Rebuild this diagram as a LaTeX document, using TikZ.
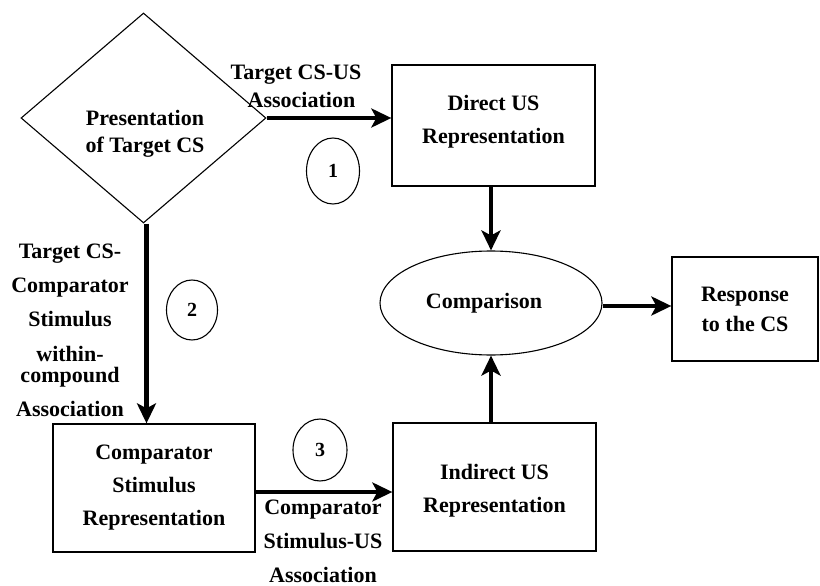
\documentclass[tikz,border=0pt]{standalone}
\usepackage{fontspec}
\setmainfont{Liberation Serif}
\usetikzlibrary{shapes.geometric,arrows.meta,calc}
\begin{document}
\begin{tikzpicture}[x=1pt,y=-1pt,
  txt/.style={font=\bfseries\fontsize{22}{33}\selectfont, align=center, inner sep=0pt},
  box/.style={draw, line width=1.3pt, rectangle, txt},
  circ/.style={draw, line width=1.1pt, ellipse, inner sep=0pt, font=\bfseries\fontsize{20}{24}\selectfont},
  flow/.style={line width=4.2pt, -{Stealth[length=20pt,width=19pt,inset=5pt]}}
]
\useasboundingbox (0,0) rectangle (820,586);
\fill[white] (0,0) rectangle (820,586);

% shapes
\node[draw, diamond, line width=1.1pt, minimum width=245pt, minimum height=210pt, inner sep=0pt] (pres) at (143.5,118) {};
\node[txt, font=\bfseries\fontsize{22}{27}\selectfont] (prestext) at (145,134) {Presentation\\of Target CS};

\node[box, minimum width=203pt, minimum height=121pt] (direct) at (493.5,125.5) {};
\node[txt] (directtext) at (493.5,122) {Direct US\\Representation};
\node[draw, ellipse, line width=1.1pt, minimum width=222pt, minimum height=104pt, txt] (comp) at (491,303) {Comparison\hspace*{14pt}};
\node[box, minimum width=146pt, minimum height=104pt, font=\bfseries\fontsize{22}{30}\selectfont] (resp) at (745,309) {Response\\to the CS};
\node[box, minimum width=203pt, minimum height=128pt] (indirect) at (494.5,487) {};
\node[txt] (indirecttext) at (494.5,491) {Indirect US\\Representation};
\node[box, minimum width=202pt, minimum height=128pt] (cmpr) at (154,488) {Comparator\\Stimulus\\Representation};

% numbered circles
\node[circ, minimum width=53pt, minimum height=66pt] (c1) at (333,171) {1};
\node[circ, minimum width=51pt, minimum height=60pt] (c2) at (192,310) {2};
\node[circ, minimum width=54pt, minimum height=62pt] (c3) at (320,450) {3};

% connector labels
\node[txt, align=right, font=\bfseries\fontsize{22}{28}\selectfont] (lab1) at (296,86) {Target CS-US\\Association\hspace*{6pt}};
\node[txt, font=\bfseries\fontsize{22}{34}\selectfont] (lab2) at (70,330) {Target CS-\\Comparator\\Stimulus\\[1pt]within-\\[-13pt]compound\\Association};
\node[txt, font=\bfseries\fontsize{22}{34}\selectfont] (lab3) at (323,541) {Comparator\\Stimulus-US\\Association};

% connectors
\draw[flow] (pres.east) -- (pres.east -| direct.west);
\draw[flow] (comp.north |- direct.south) -- (comp.north);
\draw[flow] ([yshift=-3pt]comp.east) -- ([yshift=-3pt]comp.east -| resp.west);
\draw[flow] (comp.south |- indirect.north) -- (comp.south);
\draw[flow] ([xshift=3pt]pres.south) -- ([xshift=3pt]pres.south |- cmpr.north);
\draw[flow] ([yshift=-4pt]cmpr.east) -- ([yshift=-4pt]cmpr.east -| indirect.west);
\end{tikzpicture}
\end{document}
